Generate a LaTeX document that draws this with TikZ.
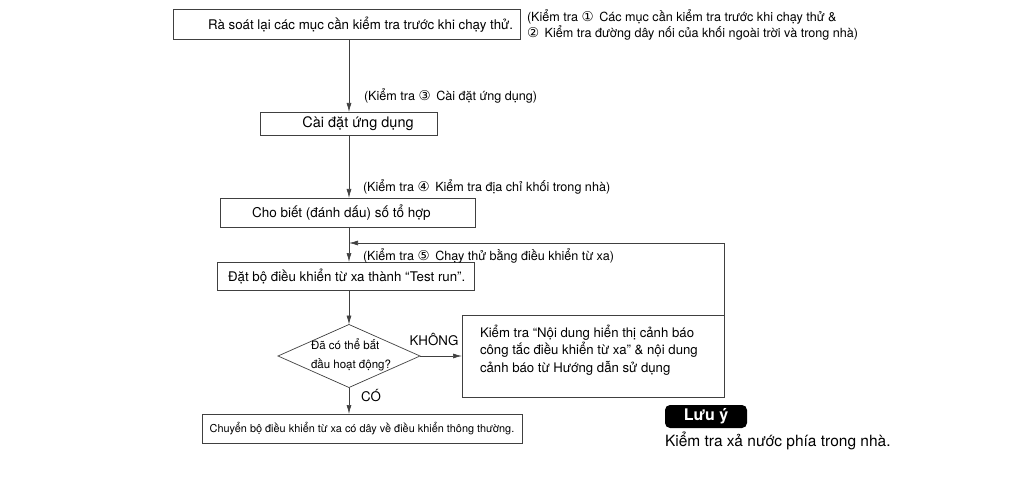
\documentclass[tikz,border=0pt]{standalone}
\usepackage{fontspec}
\setmainfont{TeX Gyre Heros}
\newfontfamily\symfont{DejaVu Sans}
\usetikzlibrary{arrows.meta,shapes.geometric}
\newcommand{\cn}[1]{{\symfont\fontsize{13.5}{14}\selectfont #1}}
\begin{document}
\begin{tikzpicture}[x=1pt,y=-1pt,
  every node/.style={inner sep=0pt,outer sep=0pt},
  boxst/.style={draw=black!75,line width=0.7pt,fill=white},
  lbl/.style={font=\fontsize{12.6}{14}\selectfont,anchor=west,align=left},
  txt/.style={font=\fontsize{13.3}{15}\selectfont},
  conn/.style={draw=black!75,line width=0.7pt,-{Latex[length=9pt,width=5pt]}},
  plain/.style={draw=black!75,line width=0.7pt}]
\useasboundingbox (0,0) rectangle (1035,486);
% boxes
\node[boxst,minimum width=347pt,minimum height=30pt] (b1) at (346.5,24.5) {};
\node[txt,anchor=east] (t1) at (513,24.5) {Rà soát lại các mục cần kiểm tra trước khi chạy thử.};
\node[boxst,minimum width=177pt,minimum height=23pt] (b2) at (348.5,123.5) {};
\node[txt,font=\fontsize{14.5}{16}\selectfont] (t2) at (358,123.5) {Cài đặt ứng dụng};
\node[boxst,minimum width=255pt,minimum height=29pt] (b3) at (347.5,212.5) {};
\node[txt,anchor=west,font=\fontsize{13.5}{16}\selectfont] (t3) at (252,212.5) {Cho biết (đánh dấu) số tổ hợp};
\node[boxst,minimum width=257pt,minimum height=28pt] (b4) at (345.5,276) {};
\node[txt,anchor=west] (t4) at (228,276) {Đặt bộ điều khiển từ xa thành “Test run”.};
\node[boxst,diamond,aspect=2.25,minimum width=142pt,minimum height=63pt] (d) at (349,356) {};
\node[font=\fontsize{11.5}{19}\selectfont,align=left] (dt) at (351,355) {Đã có thể bắt\\đầu hoạt động?};
\node[boxst,minimum width=262pt,minimum height=82pt] (b5) at (593,356) {};
\node[txt,anchor=west,align=left,font=\fontsize{13.2}{17.5}\selectfont] (t5) at (480,350) {Kiểm tra “Nội dung hiển thị cảnh báo\\công tắc điều khiển từ xa” \& nội dung\\cảnh báo từ Hướng dẫn sử dụng};
\node[boxst,minimum width=320pt,minimum height=29pt] (b6) at (362,428.5) {};
\node[font=\fontsize{10.9}{12}\selectfont] (t6) at (362,428.5) {Chuyển bộ điều khiển từ xa có dây về điều khiển thông thường.};
% labels
\node[lbl,font=\fontsize{12.6}{14}\selectfont] (l1) at (527,25) {(Kiểm tra \cn{①}\, Các mục cần kiểm tra trước khi chạy thử \&\\\cn{②}\, Kiểm tra đường dây nối của khối ngoài trời và trong nhà)};
\node[lbl] (l3) at (364,96) {(Kiểm tra \cn{③}\, Cài đặt ứng dụng)};
\node[lbl] (l4) at (363,187) {(Kiểm tra \cn{④}\, Kiểm tra địa chỉ khối trong nhà)};
\node[lbl] (l5) at (363,256) {(Kiểm tra \cn{⑤}\, Chạy thử bằng điều khiển từ xa)};
\node[txt] (kh) at (434,340) {KHÔNG};
\node[txt] (co) at (371,396) {CÓ};
% connectors
\path[conn] (b1.south -| d.north) -- (b2.north -| d.north);
\path[conn] (b2.south -| d.north) -- (b3.north -| d.north);
\path[conn] (b3.south -| d.north) -- (b4.north -| d.north);
\path[conn] (b4.south -| d.north) -- (d.north);
\path[conn] (d.east) -- (b5.west |- d.east);
\path[conn] (d.south) -- (b6.north -| d.south);
\coordinate (fb) at (724,243);
\path[conn] (b5.east) -- (fb) -- (d.north |- fb);
% note
\node[fill=black,rounded corners=5pt,minimum width=82pt,minimum height=23pt,text=white,font=\bfseries\fontsize{16}{18}\selectfont] (lu) at (706,416.5) {Lưu ý};
\node[anchor=west,font=\fontsize{15.5}{17}\selectfont] (nt) at (665,441) {Kiểm tra xả nước phía trong nhà.};
\end{tikzpicture}
\end{document}
